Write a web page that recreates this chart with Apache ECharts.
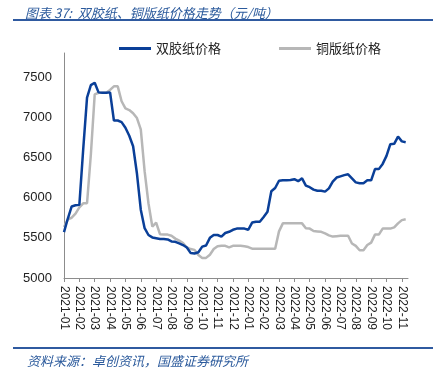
<!DOCTYPE html>
<html>
<head>
<meta charset="utf-8">
<script src="https://cdn.jsdelivr.net/npm/echarts@6/dist/echarts.min.js"></script>
<style>
  html, body { margin: 0; padding: 0; background: #fff; }
  #chart { width: 446px; height: 378px; }
</style>
</head>
<body>
<div id="chart"></div>
<script>
// month tick labels (one per month, 2021-01 .. 2022-11)
var monthLabels = ['2021-01','2021-02','2021-03','2021-04','2021-05','2021-06','2021-07','2021-08',
  '2021-09','2021-10','2021-11','2021-12','2022-01','2022-02','2022-03','2022-04','2022-05',
  '2022-06','2022-07','2022-08','2022-09','2022-10','2022-11'];
var yTicks = [5000, 5500, 6000, 6500, 7000, 7500];
// weekly readings, 4 per month, starting 2021-01 (元/吨)
var paperOffset = [ // 双胶纸价格
  5570,5740,5890,5905, 5910,6600,7245,7400, 7430,7310,7305,7305, 7310,6960,6960,6940,
  6870,6770,6640,6300, 5850,5620,5535,5505, 5495,5485,5485,5480, 5455,5450,5430,5410,
  5380,5310,5305,5320, 5390,5405,5500,5535, 5535,5515,5560,5575, 5600,5615,5615,5615,
  5600,5690,5700,5700, 5760,5825,6080,6120, 6210,6215,6215,6220, 6230,6205,6240,6150,
  6130,6100,6085,6085, 6075,6115,6200,6250, 6265,6280,6290,6240, 6190,6180,6180,6215,
  6215,6355,6355,6420, 6520,6665,6670,6760, 6700,6690];
var paperCoated = [ // 铜版纸价格
  5635,5730,5750,5800, 5880,5930,5930,6540, 7285,7305,7305,7305, 7340,7385,7385,7200,
  7110,7090,7050,6990, 6850,6330,5930,5640, 5690,5545,5540,5540, 5525,5490,5465,5435,
  5380,5360,5350,5285, 5250,5250,5290,5360, 5395,5400,5400,5380, 5400,5400,5400,5395,
  5385,5365,5365,5365, 5365,5365,5365,5365, 5580,5680,5680,5680, 5680,5680,5680,5620,
  5615,5585,5580,5575, 5555,5530,5515,5520, 5525,5525,5525,5430, 5400,5345,5345,5410,
  5440,5540,5540,5615, 5615,5615,5630,5680, 5720,5730];
var perMonth = 4;

function toPairs(arr) {
  return arr.map(function (v, i) { return [i / perMonth, v]; });
}
var monthIdx = monthLabels.map(function (m, i) { return i; });

var myChart = echarts.init(document.getElementById('chart'));
var blue = '#0a3f98', grey = '#b7b7b7', ink = '#2b5a9c';
option = {
  animation: false,
  title: [{
    text: '图表 37:  双胶纸、铜版纸价格走势（元/吨）',
    left: 20, top: 2,
    textStyle: { color: ink, fontSize: 13, fontStyle: 'italic', fontWeight: 'normal', fontFamily: 'Noto Sans CJK SC' }
  }, {
    text: '资料来源：卓创资讯，国盛证券研究所',
    left: 22, top: 350,
    textStyle: { color: ink, fontSize: 13, fontStyle: 'italic', fontWeight: 'normal', fontFamily: 'Noto Sans CJK SC' }
  }],
  graphic: [
    { type: 'line', shape: { x1: 13, y1: 20, x2: 433, y2: 20 }, style: { stroke: '#2f5aa0', lineWidth: 2 } },
    { type: 'line', shape: { x1: 13, y1: 348, x2: 433, y2: 348 }, style: { stroke: '#2f5aa0', lineWidth: 2 } }
  ],
  legend: {
    left: 114, top: 37,
    icon: 'rect', itemWidth: 32, itemHeight: 3, itemGap: 58,
    textStyle: { fontSize: 13, color: '#222', fontFamily: 'Noto Sans CJK SC' },
    data: ['双胶纸价格', '铜版纸价格']
  },
  grid: { left: 64, right: 38, top: 53, bottom: 100 },
  xAxis: {
    type: 'value', min: 0, max: 22.4, interval: 1,
    splitLine: { show: false },
    axisLine: { lineStyle: { color: '#8c8c8c' } },
    axisTick: { show: true, length: 4, lineStyle: { color: '#8c8c8c' }, customValues: monthIdx },
    axisLabel: {
      rotate: -90, margin: 8, showMaxLabel: false, hideOverlap: false, textMargin: 0,
      color: '#222', fontSize: 12, lineHeight: 11, fontFamily: 'Liberation Sans',
      formatter: function (v) { return monthLabels[Math.round(v)] && Math.abs(v - Math.round(v)) < 1e-6 ? monthLabels[Math.round(v)] : ''; }
    }
  },
  yAxis: {
    type: 'value', min: 5000, max: 7800,
    splitLine: { show: false },
    axisLine: { show: true, lineStyle: { color: '#8c8c8c' } },
    axisTick: { show: false },
    axisLabel: {
      customValues: yTicks, margin: 12, color: '#222', fontSize: 13, fontFamily: 'Liberation Sans',
      formatter: function (v) { return String(v); }
    }
  },
  series: [{
    name: '双胶纸价格', type: 'line', showSymbol: false,
    data: toPairs(paperOffset),
    lineStyle: { color: blue, width: 2.5 }, itemStyle: { color: blue }, z: 3
  }, {
    name: '铜版纸价格', type: 'line', showSymbol: false,
    data: toPairs(paperCoated),
    lineStyle: { color: grey, width: 2.5 }, itemStyle: { color: grey }, z: 2
  }]
};
myChart.setOption(option);
</script>
</body>
</html>
